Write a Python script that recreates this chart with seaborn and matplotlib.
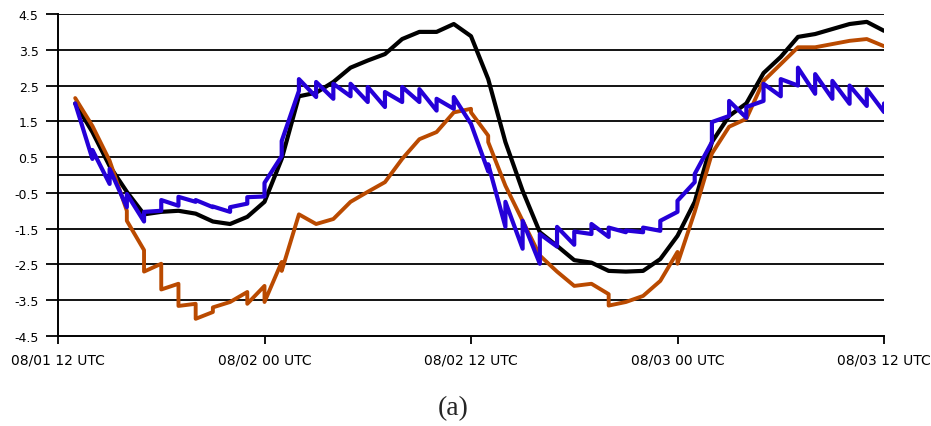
import numpy as np
import pandas as pd
import matplotlib
matplotlib.use("Agg")
import matplotlib.pyplot as plt
import seaborn as sns

# hours after 08/01 12 UTC
hours = list(range(1, 49))

# black: smooth series, one value per hour
black_vals = [2.0, 1.2, 0.25, -0.47, -1.1, -1.03, -1.0, -1.08, -1.3, -1.37,
              -1.17, -0.75, 0.45, 2.2, 2.3, 2.6, 3.0, 3.2, 3.38, 3.8,
              4.0, 4.0, 4.22, 3.88, 2.68, 0.92, -0.44, -1.6, -1.98, -2.38,
              -2.45, -2.68, -2.7, -2.68, -2.35, -1.7, -0.75, 0.92, 1.65, 2.0,
              2.85, 3.3, 3.86, 3.94, 4.08, 4.22, 4.28, 4.03]

# orange: value reached at the hour, then value after the hourly jump
orange_first = [2.15, 1.37, 0.4, -1.0, -2.1, -2.48, -3.04, -3.6, -3.83, -3.55,
                -3.27, -3.1, -2.43, -1.1, -1.37, -1.23, -0.75, -0.47, -0.2, 0.45,
                1.0, 1.2, 1.75, 1.85, 1.1, -0.3, -1.28, -2.25, -2.7, -3.1,
                -3.04, -3.33, -3.55, -3.38, -2.96, -2.15, -1.03, 0.6, 1.35, 1.57,
                2.63, 3.1, 3.57, 3.57, 3.66, 3.75, 3.8, 3.6]
orange_second = [2.15, 1.37, 0.4, -1.28, -2.7, -3.2, -3.66, -4.02, -3.7, -3.55,
                 -3.6, -3.55, -2.68, -1.1, -1.37, -1.23, -0.75, -0.47, -0.2, 0.45,
                 1.0, 1.2, 1.75, 1.75, 0.92, -0.3, -1.28, -2.25, -2.7, -3.1,
                 -3.04, -3.65, -3.55, -3.38, -2.96, -2.48, -1.03, 0.6, 1.35, 1.57,
                 2.63, 3.1, 3.57, 3.57, 3.66, 3.75, 3.8, 3.6]

# blue: sawtooth, value reached at the hour, then value after the hourly jump
blue_first = [2.0, 0.45, -0.25, -0.9, -1.3, -1.0, -0.86, -0.75, -0.9, -1.03,
              -0.8, -0.6, 0.53, 2.35, 2.18, 2.13, 2.2, 2.04, 1.9, 2.04,
              2.04, 1.8, 1.85, 1.43, 0.1, -1.45, -2.06, -2.48, -2.0, -1.95,
              -1.65, -1.73, -1.6, -1.6, -1.56, -1.03, -0.2, 0.92, 1.65, 1.6,
              2.07, 2.2, 2.5, 2.27, 2.13, 1.99, 1.93, 1.76]
blue_second = [2.0, 0.7, 0.17, -0.53, -1.03, -0.7, -0.61, -0.7, -0.88, -0.9,
               -0.62, -0.22, 0.95, 2.68, 2.6, 2.55, 2.55, 2.46, 2.32, 2.46,
               2.4, 2.13, 2.18, 1.43, 0.3, -0.75, -1.28, -1.65, -1.45, -1.58,
               -1.37, -1.47, -1.55, -1.47, -1.28, -0.72, 0.03, 1.48, 2.07, 1.9,
               2.55, 2.68, 3.0, 2.82, 2.63, 2.5, 2.4, 2.0]

ytick_vals = [4.5, 3.5, 2.5, 1.5, 0.5, -0.5, -1.5, -2.5, -3.5, -4.5]
ytick_labels = ["4.5", "3.5", "2.5", "1.5", "0.5", "-0.5", "-1.5",
                "-2.5", "-3.5", "-4.5"]
xtick_vals = [0, 12, 24, 36, 48]
xtick_labels = ["08/01 12 UTC", "08/02 00 UTC", "08/02 12 UTC",
                "08/03 00 UTC", "08/03 12 UTC"]


def stepped(h, first, second):
    xs, ys = [], []
    for t, a, b in zip(h, first, second):
        xs += [t, t]
        ys += [a, b]
    return pd.DataFrame({"hour": xs, "value": ys})


sns.set_style("white")
plt.rcParams["font.family"] = ["DejaVu Sans"]

fig = plt.figure(figsize=(9.31, 4.27), dpi=100)
ax = fig.add_axes([58 / 931, 1 - 337 / 427, (884 - 58) / 931, (337 - 15) / 427])

for v in ytick_vals[:-1] + [0.0]:
    ax.axhline(v, color="black", lw=1.3, zorder=1)

black_df = pd.DataFrame({"hour": hours, "value": black_vals})
sns.lineplot(data=black_df, x="hour", y="value", ax=ax, color="black",
             lw=3.0, sort=False, estimator=None, zorder=3)
sns.lineplot(data=stepped(hours, orange_first, orange_second), x="hour", y="value",
             ax=ax, color="#BA4A00", lw=2.8, sort=False, estimator=None, zorder=4)
sns.lineplot(data=stepped(hours, blue_first, blue_second), x="hour", y="value",
             ax=ax, color="#2500D8", lw=3.0, sort=False, estimator=None, zorder=5)

ax.set_xlim(0, 48)
ax.set_ylim(-4.5, 4.5)
ax.set_xticks(xtick_vals)
ax.set_xticklabels(xtick_labels, fontsize=10)
ax.set_yticks(ytick_vals)
ax.set_yticklabels(ytick_labels, fontsize=9)
ax.set_yticks([0.0], minor=True)
ax.set_xlabel("")
ax.set_ylabel("")

for s in ["top", "right"]:
    ax.spines[s].set_visible(False)
for s in ["left", "bottom"]:
    ax.spines[s].set_color("black")
    ax.spines[s].set_linewidth(1.4)
ax.tick_params(axis="x", direction="out", length=6, width=1.3, pad=6, colors="black")
ax.tick_params(axis="y", direction="out", length=9, width=1.3, pad=5, colors="black")
ax.tick_params(axis="y", which="minor", direction="out", length=7, width=1.3,
               colors="black")
ax.tick_params(bottom=True, left=True)
ax.grid(False)

fig.text(453 / 931, 1 - 409 / 427, "(a)", ha="center", va="center",
         fontsize=20, family="Liberation Serif")

fig.savefig("out.png", dpi=100)
